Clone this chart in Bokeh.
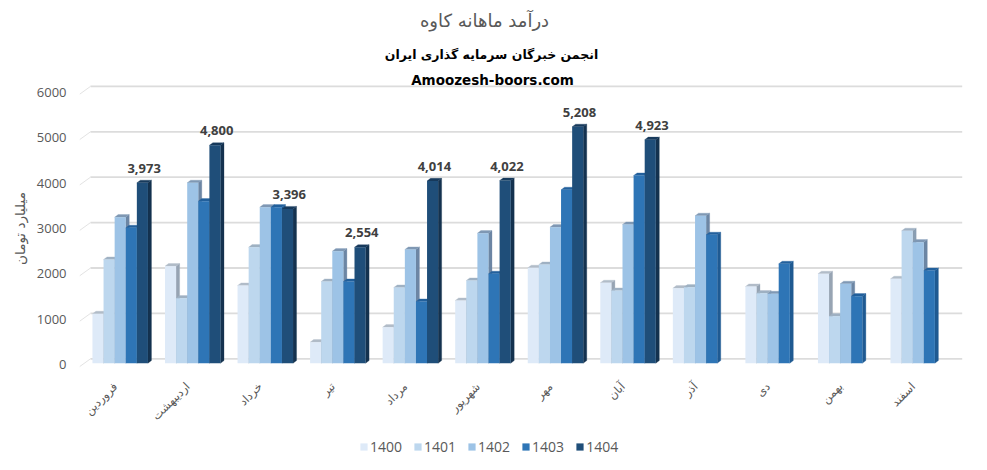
from bokeh.plotting import figure
from bokeh.models import Range1d, LinearAxis, FixedTicker, Label, Legend, LegendItem, ColumnDataSource
from bokeh.core.properties import value
from bokeh.embed import file_html
from bokeh.resources import INLINE
import math

months = ["فروردین", "اردیبهشت", "خرداد", "تیر", "مرداد", "شهریور", "مهر", "آبان", "آذر", "دی", "بهمن", "اسفند"]
years = ["1400", "1401", "1402", "1403", "1404"]
s1400 = [1088, 2137, 1711, 463, 793, 1381, 2101, 1771, 1652, 1689, 1969, 1859]
s1401 = [2284, 1432, 2555, 1800, 1667, 1822, 2174, 1601, 1674, 1542, 1035, 2916]
s1402 = [3216, 3974, 3436, 2467, 2504, 2863, 2996, 3055, 3247, 1528, 1749, 2665]
s1403 = [2982, 3568, 3436, 1800, 1359, 1969, 3819, 4134, 2828, 2189, 1476, 2042]
s1404 = [3973, 4800, 3396, 2554, 4014, 4022, 5208, 4923, None, None, None, None]
series = [s1400, s1401, s1402, s1403, s1404]
yticks = [0, 1000, 2000, 3000, 4000, 5000, 6000]

front = ["#DEEAF8", "#BDD7EE", "#9DC3E6", "#2E75B6", "#1F4E79"]
side = ["#97A4B3", "#8A9EB2", "#6C86A4", "#1F5A92", "#14324F"]
cap = ["#B1BCC8", "#9FB1C3", "#7F98B4", "#22609C", "#173A5C"]

# picture pixel geometry of the frame
F_L, F_R, F_T, F_B = 75, 975, 0, 456
W, H = 979, 462
PX_X = 72.55          # px per category
PX_Y = 0.0454         # px per unit
X0 = 119.7            # px of first category centre
Y0 = 362.7            # px of value 0 at bar fronts
bw = 11.1 / PX_X      # bar width
dx = 3.5 / PX_X       # bar depth
dy = 2.6 / PX_Y

p = figure(width=W, height=H, output_backend="svg", toolbar_location=None,
           x_range=Range1d((F_L - X0) / PX_X, (F_R - X0) / PX_X),
           y_range=Range1d((Y0 - F_B) / PX_Y, (Y0 - F_T) / PX_Y),
           min_border_left=F_L, min_border_right=W - F_R,
           min_border_top=F_T, min_border_bottom=H - F_B,
           outline_line_color=None, background_fill_color="white")
p.grid.visible = False
p.yaxis.visible = False

# wall gridlines and floor/wall slants
gy = 4.4 / PX_Y
gl = (90 - X0) / PX_X
gr = (961.7 - X0) / PX_X
sl = (79.3 - X0) / PX_X
sy = -3.3 / PX_Y
p.segment(x0=[gl] * 7, x1=[gr] * 7, y0=[t + gy for t in yticks], y1=[t + gy for t in yticks],
          line_color="#DCDCDC", line_width=1.8)
p.segment(x0=[sl] * 7, x1=[gl] * 7, y0=[t + sy for t in yticks], y1=[t + gy for t in yticks],
          line_color="#E3E3E3", line_width=1)

items = []
for s, vals in enumerate(series):
    rows = [(i, v) for i, v in enumerate(vals) if v is not None]
    lefts = [i + (s - 2.5) * bw for i, v in rows]
    rights = [l + bw for l in lefts]
    tops = [v for i, v in rows]
    p.patches(xs=[[r, r + dx, r + dx, r] for r in rights],
              ys=[[0, dy, t + dy, t] for t in tops],
              fill_color=side[s], line_color=side[s], line_width=0.3)
    p.patches(xs=[[l, l + dx, r + dx, r] for l, r in zip(lefts, rights)],
              ys=[[t, t + dy, t + dy, t] for t in tops],
              fill_color=cap[s], line_color=cap[s], line_width=0.3)
    bars = p.quad(left=lefts, right=rights, bottom=[0] * len(tops), top=tops,
                  fill_color=front[s], line_color=None)
    items.append(LegendItem(label=years[s], renderers=[bars]))

# data labels on the last series
rows = [(i, v) for i, v in enumerate(s1404) if v is not None]
src = ColumnDataSource(dict(x=[i + 2 * bw + dx / 2 for i, v in rows], y=[v for i, v in rows],
                            t=[f"{v:,}" for i, v in rows]))
p.text(x="x", y="y", text="t", source=src, text_align="center", text_baseline="middle", y_offset=-14.5,
       text_font=value("Open Sans"), text_font_style="bold", text_font_size="13px", text_color="#404040")

# x axis, fixed just under the floor; its labels sit a little left of the category centres
LAB_SHIFT = 5
p.extra_x_ranges["labels"] = Range1d((F_L - X0 + LAB_SHIFT) / PX_X, (F_R - X0 + LAB_SHIFT) / PX_X)
ax = p.xaxis[0]
ax.x_range_name = "labels"
ax.fixed_location = (Y0 - 375) / PX_Y
ax.ticker = FixedTicker(ticks=list(range(12)))
ax.major_label_overrides = {i: m for i, m in enumerate(months)}
ax.major_label_orientation = math.pi / 4
ax.major_label_text_font = "DejaVu Sans"
ax.major_label_text_font_size = "11.5px"
ax.major_label_text_color = "#595959"
ax.major_label_standoff = 3
ax.axis_line_color = None
ax.major_tick_line_color = None
ax.minor_tick_line_color = None

# y axis, its labels sit at the front edge of the floor
p.extra_y_ranges["ticks"] = Range1d((364 - F_B) / 0.04533, (364 - F_T) / 0.04533)
ya = LinearAxis(y_range_name="ticks", ticker=FixedTicker(ticks=yticks))
ya.major_label_text_font = "Open Sans"
ya.major_label_text_font_size = "13px"
ya.major_label_text_color = "#595959"
ya.major_label_standoff = 3
ya.axis_line_color = None
ya.major_tick_line_color = None
ya.minor_tick_line_color = None
ya.axis_label = "میلیارد تومان"
ya.axis_label_text_font = "DejaVu Sans"
ya.axis_label_text_font_style = "normal"
ya.axis_label_text_font_size = "13.5px"
ya.axis_label_text_color = "#595959"
ya.axis_label_standoff = 6
p.add_layout(ya, "left")

def lab(text, x, y, **kw):
    p.add_layout(Label(x=x - F_L, y=F_B - y, x_units="screen", y_units="screen", text=text,
                       text_align="center", text_baseline="middle", **kw))

lab("درآمد ماهانه کاوه", 484, 20, text_font="DejaVu Sans", text_font_size="18px", text_color="#595959")
lab("انجمن خبرگان سرمایه گذاری ایران", 491, 54, text_font="DejaVu Sans", text_font_style="bold",
    text_font_size="12.5px", text_color="#000000")
lab("Amoozesh-boors.com", 492, 79, text_font="DejaVu Sans", text_font_style="bold",
    text_font_size="13.5px", text_color="#000000")

leg = Legend(items=items, orientation="horizontal", location=(359 - F_L, F_B - 456),
             glyph_width=9, glyph_height=9, label_text_font="Open Sans", label_text_font_size="14px",
             label_text_color="#595959", label_standoff=2, spacing=11, padding=0, margin=0,
             background_fill_alpha=0, border_line_color=None, label_height=14)
p.add_layout(leg)

open("out.html", "w").write(file_html(p, INLINE))
